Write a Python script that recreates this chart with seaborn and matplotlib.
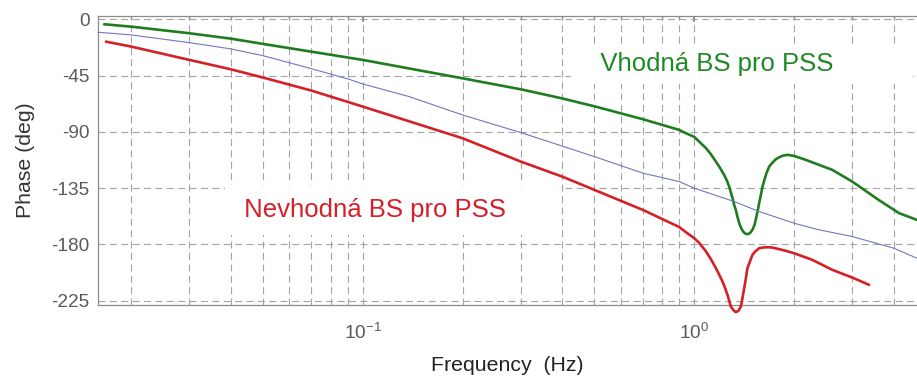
import numpy as np
import pandas as pd
import matplotlib
matplotlib.use("Agg")
import matplotlib.pyplot as plt
import seaborn as sns

# values (frequency in Hz, phase in deg)
green_freq = [0.0166, 0.02, 0.03, 0.04, 0.05, 0.0715, 0.1, 0.2, 0.3, 0.4, 0.5, 0.7, 0.9, 0.944,
              1.0, 1.035, 1.085, 1.123, 1.163, 1.195, 1.231, 1.255, 1.275, 1.290, 1.305, 1.320,
              1.335, 1.351, 1.367, 1.386, 1.405, 1.425, 1.447, 1.472, 1.499, 1.520, 1.541, 1.556,
              1.570, 1.589, 1.607, 1.629, 1.652, 1.683, 1.722, 1.763, 1.804, 1.855, 1.910, 2.0,
              2.17, 2.38, 2.61, 3.0, 3.6, 4.15, 4.7]
green_phase = [-4.0, -5.9, -11.2, -15.5, -19.7, -26.3, -32.5, -47.2, -56.0, -63.3, -69.6, -79.9,
               -88.4, -91.1, -94.0, -97.8, -103.0, -107.9, -113.8, -118.6, -124.4, -129.0,
               -133.7, -138.5, -143.0, -148.4, -152.4, -158.2, -163.0, -167.0, -169.7, -171.3,
               -171.8, -171.0, -168.3, -164.4, -157.7, -152.4, -147.0, -140.4, -133.7, -128.4,
               -123.0, -117.8, -114.6, -111.9, -110.3, -109.0, -108.4, -109.2, -112.4, -116.4,
               -120.4, -129.8, -144.4, -155.0, -160.4]

blue_freq = [0.0159, 0.02, 0.03, 0.04, 0.05, 0.07, 0.091, 0.1, 0.138, 0.2, 0.3, 0.5, 0.7, 0.9,
             1.0, 1.32, 1.57, 2.0, 2.38, 3.0, 4.0, 4.7]
blue_phase = [-10.4, -12.5, -18.7, -23.7, -29.1, -39.5, -48.0, -51.7, -61.8, -76.5, -90.6,
              -109.8, -123.0, -129.7, -135.0, -145.7, -153.7, -163.0, -168.3, -173.7, -183.0, -191.0]

red_freq = [0.0168, 0.02, 0.03, 0.04, 0.05, 0.07, 0.1, 0.2, 0.3, 0.4, 0.5, 0.7, 0.9, 0.944,
            1.0, 1.035, 1.085, 1.123, 1.163, 1.190, 1.217, 1.240, 1.26, 1.275, 1.29, 1.311,
            1.335, 1.360, 1.383, 1.398, 1.415, 1.432, 1.447, 1.472, 1.499, 1.527, 1.57, 1.607,
            1.663, 1.722, 1.804, 1.890, 2.0, 2.27, 2.61, 3.0, 3.37]
red_phase = [-17.9, -21.8, -32.5, -40.0, -46.6, -57.0, -69.8, -95.1, -113.8, -125.8, -136.4,
             -152.4, -166.0, -170.2, -175.0, -178.7, -185.5, -191.8, -199.0, -204.3, -209.6,
             -215.0, -220.3, -225.0, -229.6, -232.3, -234.1, -233.0, -229.6, -223.0, -215.0,
             -207.0, -199.0, -193.7, -188.3, -185.7, -183.0, -182.5, -182.2, -182.5, -183.8,
             -185.1, -187.0, -192.3, -200.3, -206.5, -212.3]

y_ticks = [0, -45, -90, -135, -180, -225]

sns.set_theme(style="white")
plt.rcParams['font.family'] = ['Liberation Sans', 'DejaVu Sans']
plt.rcParams['axes.unicode_minus'] = False
plt.rcParams['lines.scale_dashes'] = False

fig = plt.figure(figsize=(9.17, 3.83), dpi=100)
ax = fig.add_axes([98 / 917, 1 - 305 / 383, 1 - 98 / 917, (305 - 16) / 383])
ax.set_xscale('log')

curves = [
    (green_freq, green_phase, '#1f7d1f', 1.9),
    (blue_freq, blue_phase, '#7474c4', 0.8),
    (red_freq, red_phase, '#d42026', 1.9),
]
for fx, fy, col, lw in curves:
    df = pd.DataFrame({'freq': fx, 'phase': fy})
    sns.lineplot(data=df, x='freq', y='phase', color=col, linewidth=lw, ax=ax,
                 clip_on=False, zorder=3)

ax.set_xlim(0.0159, 4.7)
ax.set_ylim(-228.4, 2.6)
ax.set_yticks(y_ticks)

ax.grid(True, which='both', axis='x', color='#a3a3a3', linewidth=0.8, linestyle=(0, (5, 3.2)))
ax.grid(True, which='major', axis='y', color='#a3a3a3', linewidth=0.8, linestyle=(0, (5, 3.2)))
ax.set_axisbelow(True)

for side in ['top', 'left', 'bottom']:
    ax.spines[side].set_color('#8c8c8c')
    ax.spines[side].set_linewidth(0.9)
ax.spines['right'].set_visible(False)

ax.tick_params(axis='both', which='both', direction='in', colors='#8c8c8c',
               labelcolor='#5a5a5a', labelsize=13.7, top=True)
ax.tick_params(axis='both', which='major', length=4)
ax.tick_params(axis='x', which='minor', length=2.5)
ax.tick_params(axis='x', pad=13)
ax.tick_params(axis='y', pad=6)

ax.set_xlabel('Frequency  (Hz)', fontsize=15.3, color='#222222', labelpad=9)
ax.set_ylabel('Phase (deg)', fontsize=15.3, color='#333333', labelpad=12)

ax.text(0.450, -36.1, '   Vhodná BS pro PSS          ', color='#1f8a24', fontsize=18.5,
        va='center', ha='left', zorder=2.5,
        bbox=dict(boxstyle='square,pad=0.31', facecolor='white', edgecolor='none'))
ax.text(0.0418, -152.4, ' Nevhodná BS pro PSS      ', color='#d61f28', fontsize=18.5,
        va='center', ha='left', zorder=2.5,
        bbox=dict(boxstyle='square,pad=0.49', facecolor='white', edgecolor='none'))

fig.savefig('out.png', dpi=100)
